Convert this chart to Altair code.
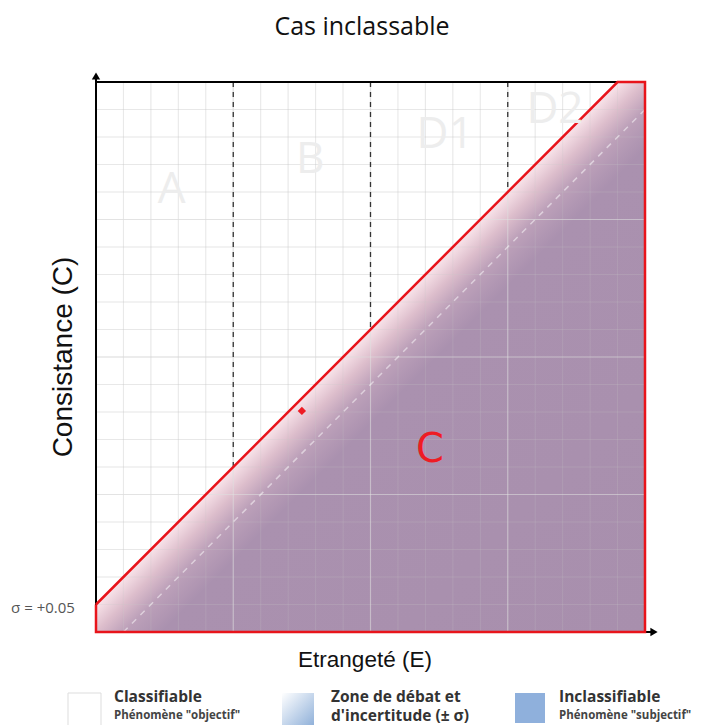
import altair as alt
import pandas as pd

# ---- data ----
sigma = 0.05
boundary_x = [0.0, 0.95, 1.0]          # classification boundary C = E + sigma
boundary_top = [0.05, 1.0, 1.0]
outline_x = [0.0, 0.95, 1.0, 1.0, 0.0, 0.0]
outline_y = [0.05, 1.0, 1.0, 0.0, 0.0, 0.05]
lower_x = [0.05, 1.0]                  # C = E - sigma
lower_y = [0.0, 0.95]
class_splits = [0.25, 0.5, 0.75]
minor_grid = [i / 20 for i in range(1, 20)]
major_grid = [0.25, 0.5, 0.75]
zone_labels = ["A", "B", "D1", "D2"]
zone_x = [0.138, 0.39, 0.636, 0.836]
zone_y = [0.804, 0.858, 0.904, 0.949]
case_e = [0.375]
case_c = [0.402]

W, H = 549, 550
X0, Y0 = 96, 82  # page position of plot origin

xs = alt.Scale(domain=[0, 1], nice=False, zero=False)
ys = alt.Scale(domain=[0, 1], nice=False, zero=False)
X = lambda f: alt.X(f, scale=xs, axis=None)
Y = lambda f: alt.Y(f, scale=ys, axis=None)

one = alt.Data(values=[{"a": 1}])

# grid
grid_df = pd.DataFrame({"g": minor_grid})
major_df = pd.DataFrame({"g": major_grid})
def grid_layers(op_minor, op_major):
    vminor = alt.Chart(grid_df).mark_rule(color="#c8c8c8", opacity=op_minor, strokeWidth=1).encode(
        x=X("g:Q"), y=alt.value(0), y2=alt.value(H))
    hminor = alt.Chart(grid_df).mark_rule(color="#c8c8c8", opacity=op_minor, strokeWidth=1).encode(
        y=Y("g:Q"), x=alt.value(0), x2=alt.value(W))
    vmajor = alt.Chart(major_df).mark_rule(color="#e4e4e4", opacity=op_major, strokeWidth=1.2).encode(
        x=X("g:Q"), y=alt.value(0), y2=alt.value(H))
    hmajor = alt.Chart(major_df).mark_rule(color="#e4e4e4", opacity=op_major, strokeWidth=1.2).encode(
        y=Y("g:Q"), x=alt.value(0), x2=alt.value(W))
    return [vminor, hminor, vmajor, hmajor]

# filled region with gradient
area_df = pd.DataFrame({"x": boundary_x, "y": boundary_top, "y0": [0.0] * 3})
grad = alt.Gradient(
    gradient="linear", x1=0, y1=0, x2=1, y2=1,
    stops=[
        alt.GradientStop(offset=0.0, color="#f8e3e9"),
        alt.GradientStop(offset=0.476, color="#f8e3e9"),
        alt.GradientStop(offset=0.50, color="#ddbecc"),
        alt.GradientStop(offset=0.525, color="#bca0b9"),
        alt.GradientStop(offset=0.56, color="#aa91af"),
        alt.GradientStop(offset=1.0, color="#a88fad"),
    ],
)
area = alt.Chart(area_df).mark_area(color=grad, opacity=1).encode(
    x=X("x:Q"), y=Y("y:Q"), y2="y0:Q")

# lower sigma dashed line
lower_df = pd.DataFrame({"x": lower_x, "y": lower_y})
lower = alt.Chart(lower_df).mark_line(color="white", opacity=0.5, strokeWidth=1.5,
                                      strokeDash=[6, 6]).encode(x=X("x:Q"), y=Y("y:Q"))

# black dashed class separators
sep_df = pd.DataFrame({"x": class_splits, "top": [1.0] * 3,
                       "bot": [v + sigma for v in class_splits]})
seps = alt.Chart(sep_df).mark_rule(color="#333333", strokeWidth=1.3, strokeDash=[5, 5]).encode(
    x=X("x:Q"), y=Y("top:Q"), y2="bot:Q")

# axes (black) with arrows
yaxis = alt.Chart(one).mark_rule(color="black", strokeWidth=2).encode(
    x=alt.value(0), y=alt.value(H), y2=alt.value(-5))
topline = alt.Chart(one).mark_rule(color="black", strokeWidth=2).encode(
    y=alt.value(0), x=alt.value(0), x2=alt.value(W))
xaxis = alt.Chart(one).mark_rule(color="black", strokeWidth=2).encode(
    y=alt.value(H), x=alt.value(0), x2=alt.value(W + 8))
arr_up = alt.Chart(one).mark_point(shape="triangle-up", filled=True, color="black",
                                   size=70, opacity=1).encode(x=alt.value(0), y=alt.value(-6))
arr_right = alt.Chart(one).mark_point(shape="triangle-right", filled=True, color="black",
                                      size=70, opacity=1).encode(x=alt.value(W + 9), y=alt.value(H))

# red outline
out_df = pd.DataFrame({"x": outline_x, "y": outline_y, "o": list(range(len(outline_x)))})
outline = alt.Chart(out_df).mark_line(color="#e8141b", strokeWidth=2.5).encode(
    x=X("x:Q"), y=Y("y:Q"), order="o:Q")

# zone labels
zones_df = pd.DataFrame({"t": zone_labels, "x": zone_x, "y": zone_y})
zones = alt.Chart(zones_df).mark_text(font="Open Sans", fontSize=44, color="#ededed",
                                      baseline="middle").encode(
    x=X("x:Q"), y=Y("y:Q"), text="t:N")

# C label
c_label = alt.Chart(one).mark_text(text="C", font="DejaVu Sans", fontSize=40,
                                   color="#ee1c24", baseline="middle").encode(
    x=alt.value(430 - X0), y=alt.value(450 - Y0))

# case point
case_df = pd.DataFrame({"E": case_e, "C": case_c})
case = alt.Chart(case_df).mark_point(shape="diamond", filled=True, color="#ee1c24",
                                     size=70, opacity=1).encode(x=X("E:Q"), y=Y("C:Q"))

def txt(s, x, y, size, font="Open Sans", color="#222", align="left", angle=0, weight="normal",
        baseline="alphabetic"):
    return alt.Chart(one).mark_text(text=s, font=font, fontSize=size, color=color,
                                    align=align, angle=angle, fontWeight=weight,
                                    baseline=baseline).encode(
        x=alt.value(x - X0), y=alt.value(y - Y0))

title = txt("Cas inclassable", 362, 27, 25, color="#111", align="center", baseline="middle")
ytitle = txt("Consistance (C)", 64, 357, 28, font="Liberation Sans", color="#111",
             align="center", angle=270, baseline="middle")
xtitle = txt("Etrangeté (E)", 365, 660, 22.5, font="Liberation Sans", color="#111",
             align="center", baseline="middle")
sigma_lbl = txt("σ = +0.05", 43, 608, 15, color="#555", align="center", baseline="middle")

# legend
sw1 = alt.Chart(one).mark_rect(fill="white", stroke="#dddddd", strokeWidth=1).encode(
    x=alt.value(68 - X0), x2=alt.value(101 - X0), y=alt.value(693 - Y0), y2=alt.value(726 - Y0))
lgrad = alt.Gradient(gradient="linear", x1=0, y1=0, x2=1, y2=1,
                     stops=[alt.GradientStop(offset=0, color="#ffffff"),
                            alt.GradientStop(offset=1, color="#8fb0d9")])
sw2 = alt.Chart(one).mark_rect(color=lgrad).encode(
    x=alt.value(282 - X0), x2=alt.value(314 - X0), y=alt.value(693 - Y0), y2=alt.value(726 - Y0))
sw3 = alt.Chart(one).mark_rect(color="#8fb0dc").encode(
    x=alt.value(515 - X0), x2=alt.value(545 - X0), y=alt.value(693 - Y0), y2=alt.value(723 - Y0))
l1a = txt("Classifiable", 114, 702, 15.5, weight="bold", color="#333")
l1b = txt("Phénomène \"objectif\"", 114, 719, 11.5, weight="bold", color="#444")
l2a = txt("Zone de débat et", 331, 702, 15.5, weight="bold", color="#333")
l2b = txt("d'incertitude (± σ)", 331, 721, 15.5, weight="bold", color="#333")
l3a = txt("Inclassifiable", 559, 702, 15.5, weight="bold", color="#333")
l3b = txt("Phénomène \"subjectif\"", 559, 719, 11.5, weight="bold", color="#444")

chart = alt.layer(
    *grid_layers(0.25, 0.5), area, *grid_layers(0.22, 0.45), lower, seps,
    yaxis, topline, xaxis, arr_up, arr_right, outline, zones, c_label, case,
    title, ytitle, xtitle, sigma_lbl, sw1, sw2, sw3, l1a, l1b, l2a, l2b, l3a, l3b,
).properties(
    width=W, height=H,
    autosize=alt.AutoSizeParams(type="none"),
    padding={"left": X0 - 8, "top": Y0 - 8, "right": 50, "bottom": 97},
).configure_view(stroke=None)

chart.save("out.html", embed_options={"renderer": "svg", "actions": False})
